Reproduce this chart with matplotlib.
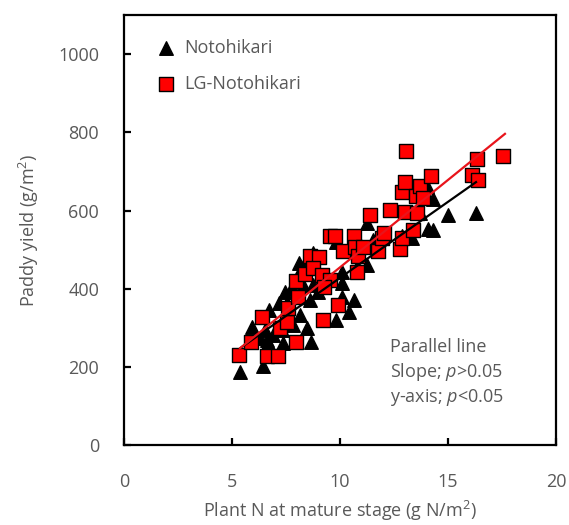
import numpy as np
import matplotlib.pyplot as plt

plt.rcParams['font.family'] = ['Open Sans', 'DejaVu Sans']
plt.rcParams['mathtext.fontset'] = 'custom'
plt.rcParams['mathtext.it'] = 'Open Sans:italic'
plt.rcParams['mathtext.rm'] = 'Open Sans'

# Notohikari (triangles)
noto_x = [5.37, 6.45, 5.91, 6.30, 6.60, 6.53, 6.73, 6.91, 7.35, 7.19, 7.45, 8.15, 8.46, 8.64,
          8.12, 8.30, 8.77, 8.61, 7.76, 9.81, 10.08, 10.08, 10.43, 10.65, 9.81, 11.24, 11.24,
          11.70, 13.32, 14.09, 14.32, 15.01, 16.30, 14.32, 14.01, 13.70, 9.23, 9.00, 8.00,
          7.53, 8.30, 10.77, 8.77, 7.30, 7.84, 6.68, 12.86, 11.54, 10.08]
noto_y = [188, 203, 302, 274, 269, 295, 346, 282, 261, 363, 393, 333, 299, 265,
          466, 457, 491, 372, 406, 321, 415, 380, 342, 372, 521, 462, 568,
          508, 530, 553, 551, 590, 594, 630, 662, 594, 431, 393, 431,
          363, 410, 457, 410, 295, 308, 261, 534, 526, 442]

# LG-Notohikari (squares)
lg_x = [5.34, 5.88, 6.40, 6.60, 7.15, 7.22, 7.53, 7.96, 7.61, 7.96, 8.07, 8.38, 8.61, 9.04,
        8.77, 9.15, 9.20, 9.54, 9.26, 9.54, 9.78, 9.92, 10.12, 10.65, 10.69, 10.77, 10.85,
        11.08, 11.39, 11.78, 11.93, 12.04, 12.31, 12.78, 12.86, 12.86, 13.01, 13.06, 13.01,
        13.39, 13.52, 13.58, 13.70, 14.20, 16.10, 16.36, 16.40, 17.56, 13.86]
lg_y = [231, 265, 329, 228, 228, 300, 314, 265, 350, 419, 380, 438, 483, 481,
        453, 436, 321, 423, 404, 536, 536, 359, 498, 536, 508, 442, 483,
        507, 590, 496, 530, 544, 601, 502, 530, 647, 673, 752, 596,
        551, 637, 594, 664, 688, 692, 731, 679, 739, 632]

# fitted lines: slope, intercept, x range
noto_fit = (38.9, 39.0, 5.4, 16.3)
lg_fit = (44.7, 8.0, 5.37, 17.64)

fig = plt.figure(figsize=(5.69, 5.25), dpi=100)
ax = fig.add_axes([0.218, 0.152, 0.759, 0.819])

ax.scatter(noto_x, noto_y, marker='^', s=95, color='black', zorder=3, label='Notohikari')
ax.scatter(lg_x, lg_y, marker='s', s=90, color='#ff0000', edgecolor='black', linewidth=1,
           zorder=4, label='LG-Notohikari')

for (k, b, x0, x1), c in [(noto_fit, 'black'), (lg_fit, '#e8141b')]:
    xx = np.array([x0, x1])
    ax.plot(xx, k * xx + b, color=c, lw=1.6, zorder=5)

ax.set_xlim(0, 20)
ax.set_ylim(0, 1100)
ax.set_xticks([0, 5, 10, 15, 20])
ax.set_yticks([0, 200, 400, 600, 800, 1000])
for s in ['top', 'right', 'left', 'bottom']:
    ax.spines[s].set_linewidth(1.6)
ax.tick_params(direction='in', length=5, width=1.6, colors='black',
               labelcolor='#595959', labelsize=13)
ax.tick_params(axis='y', pad=18)
ax.tick_params(axis='x', pad=20)

ax.set_xlabel('Plant N at mature stage (g N/m$^2$)', color='#595959', fontsize=13, labelpad=6)
ax.set_ylabel('Paddy yield (g/m$^2$)', color='#595959', fontsize=13, labelpad=12)

leg = ax.legend(loc='upper left', bbox_to_anchor=(0.03, 0.97), frameon=False, fontsize=13,
                labelspacing=1.0, handletextpad=0.0, borderaxespad=0.2)
for t in leg.get_texts():
    t.set_color('#595959')

ax.text(0.615, 0.25, 'Parallel line\nSlope; $p$>0.05\ny-axis; $p$<0.05',
        transform=ax.transAxes, color='#595959', fontsize=13, va='top', linespacing=1.3)

fig.savefig('out.png', dpi=100)
